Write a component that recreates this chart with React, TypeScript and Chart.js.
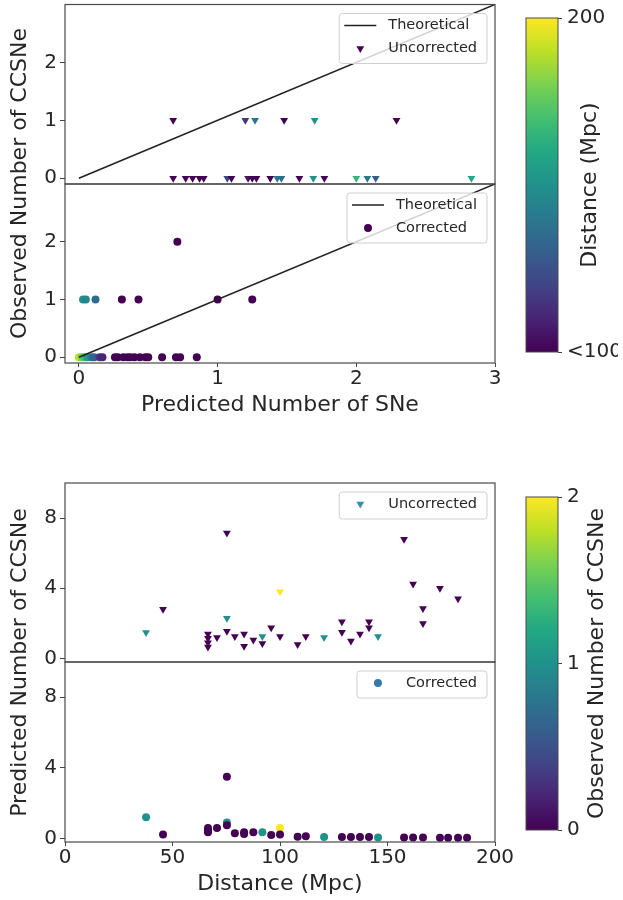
import React, { useEffect, useRef } from 'react';
import { Chart, registerables } from 'chart.js';

Chart.register(...registerables);

const FONT = '"DejaVu Sans", "Liberation Sans", sans-serif';
const TEXT = '#262626';
const PAGE_W = 623;
const PAGE_H = 900;

// ---------- Figure 1: observed vs predicted ----------
const theoX = [0, 3];
const theoY = [0, 3];
const fig1XTicks = [0, 1, 2, 3];
const fig1YTicks = [0, 1, 2];

const uncPred = [0.68, 1.2, 1.27, 1.48, 1.7, 2.29, 0.68, 0.77, 0.82, 0.87, 0.9, 1.07, 1.1, 1.22, 1.25, 1.28, 1.38, 1.43, 1.46, 1.59, 1.69, 1.77, 2.0, 2.08, 2.14, 2.83];
const uncObs = [1, 1, 1, 1, 1, 1, 0, 0, 0, 0, 0, 0, 0, 0, 0, 0, 0, 0, 0, 0, 0, 0, 0, 0, 0, 0];
const uncDist = [90, 115, 140, 90, 150, 90, 92, 90, 90, 90, 90, 120, 100, 105, 95, 92, 100, 140, 135, 90, 150, 90, 165, 140, 130, 160];

const corPred = [0.71, 0.03, 0.05, 0.12, 0.31, 0.43, 1.0, 1.25, 0.0, 0.02, 0.04, 0.06, 0.09, 0.11, 0.15, 0.17, 0.26, 0.28, 0.32, 0.35, 0.37, 0.4, 0.44, 0.48, 0.5, 0.6, 0.7, 0.73, 0.85];
const corObs = [2, 1, 1, 1, 1, 1, 1, 1, 0, 0, 0, 0, 0, 0, 0, 0, 0, 0, 0, 0, 0, 0, 0, 0, 0, 0, 0, 0, 0];
const corDist = [90, 150, 145, 135, 90, 90, 90, 90, 190, 180, 170, 155, 140, 130, 115, 110, 95, 90, 90, 90, 90, 90, 90, 90, 90, 90, 90, 90, 90];

// ---------- Figure 2: predicted vs distance ----------
const fig2XTicks = [0, 50, 100, 150, 200];
const fig2YTicks = [0, 4, 8];

const uDist = [37.7, 45.6, 66.5, 66.5, 66.5, 66.5, 70.7, 75.3, 75.3, 75.3, 79.0, 83.3, 83.3, 87.6, 91.8, 91.8, 95.9, 100, 100, 108.2, 112.0, 120.5, 128.8, 128.8, 133.0, 137.2, 141.4, 141.4, 145.6, 157.7, 161.9, 166.5, 166.5, 174.4, 182.8];
const uPred = [1.48, 2.8, 1.4, 1.15, 0.9, 0.65, 1.2, 7.15, 2.3, 1.55, 1.25, 1.4, 0.7, 1.05, 1.25, 0.85, 1.75, 3.8, 1.25, 0.8, 1.25, 1.2, 2.1, 1.5, 1.0, 1.4, 2.1, 1.75, 1.25, 6.8, 4.25, 2.85, 2.0, 4.0, 3.4];
const uObs = [1, 0, 0, 0, 0, 0, 0, 0, 1, 0, 0, 0, 0, 0, 1, 0, 0, 2, 0, 0, 0, 1, 0, 0, 0, 0, 0, 0, 1, 0, 0, 0, 0, 0, 0];

const cDist = [37.7, 45.6, 66.5, 66.5, 66.5, 70.7, 75.3, 75.3, 75.3, 79.0, 83.3, 83.3, 87.6, 91.8, 95.9, 100, 100, 108.2, 112.0, 120.5, 128.8, 133.0, 137.2, 141.4, 145.6, 157.7, 161.9, 166.5, 174.4, 178.2, 182.8, 187.0];
const cPred = [1.2, 0.23, 0.6, 0.45, 0.35, 0.6, 3.5, 0.9, 0.75, 0.3, 0.35, 0.25, 0.35, 0.35, 0.2, 0.6, 0.22, 0.1, 0.12, 0.08, 0.08, 0.08, 0.08, 0.08, 0.05, 0.05, 0.05, 0.05, 0.04, 0.04, 0.04, 0.04];
const cObs = [1, 0, 0, 0, 0, 0, 0, 1, 0, 0, 0, 0, 0, 1, 0, 2, 0, 0, 0, 1, 0, 0, 0, 0, 1, 0, 0, 0, 0, 0, 0, 0];

// ---------- Colorbars ----------
const cb1Ticks = [100, 200];
const cb1Labels = ['<100', '200'];
const cb2Ticks = [0, 1, 2];
const cb2Labels = ['0', '1', '2'];

// ---------- viridis ----------
const VIRIDIS = ['#440154', '#482475', '#414487', '#355f8d', '#2a788e', '#21918c', '#22a884', '#44bf70', '#7ad151', '#bddf26', '#fde725'];
function hexToRgb(h: string) {
  return [parseInt(h.slice(1, 3), 16), parseInt(h.slice(3, 5), 16), parseInt(h.slice(5, 7), 16)];
}
function viridis(t: number) {
  const tt = Math.max(0, Math.min(1, t));
  const n = VIRIDIS.length - 1;
  const i = Math.min(Math.floor(tt * n), n - 1);
  const f = tt * n - i;
  const a = hexToRgb(VIRIDIS[i]);
  const b = hexToRgb(VIRIDIS[i + 1]);
  const c = a.map((v, k) => Math.round(v + (b[k] - v) * f));
  return `rgb(${c[0]},${c[1]},${c[2]})`;
}

// ---------- plugins ----------
function framePlugin() {
  return {
    id: 'frame',
    afterDatasetsDraw(chart: any) {
      const { left, top, right, bottom } = chart.chartArea;
      const ctx = chart.ctx;
      ctx.save();
      ctx.strokeStyle = '#4a4a4a';
      ctx.lineWidth = 1.2;
      ctx.strokeRect(left, top, right - left, bottom - top);
      ctx.restore();
    },
  };
}

function drawMarker(ctx: CanvasRenderingContext2D, kind: string, x: number, y: number, color: string) {
  ctx.fillStyle = color;
  ctx.beginPath();
  if (kind === 'tri') {
    const r = 4.5;
    ctx.moveTo(x, y + r);
    ctx.lineTo(x + r * Math.cos(Math.PI / 6), y - r / 2);
    ctx.lineTo(x - r * Math.cos(Math.PI / 6), y - r / 2);
    ctx.closePath();
  } else {
    ctx.arc(x, y, 4, 0, Math.PI * 2);
  }
  ctx.fill();
}

function legendPlugin(items: { kind: string; color: string; label: string }[]) {
  return {
    id: 'boxLegend',
    afterDraw(chart: any) {
      const ctx = chart.ctx;
      const ca = chart.chartArea;
      ctx.save();
      ctx.font = `14.5px ${FONT}`;
      const tw = Math.max(...items.map((it) => ctx.measureText(it.label).width));
      const w = 5 + 32 + 12 + tw + 10;
      const h = items.length * 23 + 4;
      const x = ca.right - 8 - w;
      const y = ca.top + 9;
      ctx.beginPath();
      if ((ctx as any).roundRect) (ctx as any).roundRect(x, y, w, h, 3);
      else ctx.rect(x, y, w, h);
      ctx.fillStyle = 'rgba(255,255,255,0.8)';
      ctx.fill();
      ctx.strokeStyle = '#d0d0d0';
      ctx.lineWidth = 1;
      ctx.stroke();
      items.forEach((it, i) => {
        const cy = y + 12 + i * 23;
        const hx = x + 5;
        if (it.kind === 'line') {
          ctx.strokeStyle = it.color;
          ctx.lineWidth = 1.6;
          ctx.beginPath();
          ctx.moveTo(hx, cy);
          ctx.lineTo(hx + 32, cy);
          ctx.stroke();
        } else {
          drawMarker(ctx, it.kind, hx + 16, cy, it.color);
        }
        ctx.fillStyle = TEXT;
        ctx.textBaseline = 'middle';
        ctx.textAlign = 'left';
        ctx.fillText(it.label, hx + 44, cy);
      });
      ctx.restore();
    },
  };
}

function textPlugin(items: { text: string; x: number; y: number; size: number }[]) {
  return {
    id: 'sideText',
    afterDraw(chart: any) {
      const ctx = chart.ctx;
      ctx.save();
      items.forEach((t) => {
        ctx.save();
        ctx.translate(t.x, t.y);
        ctx.rotate(-Math.PI / 2);
        ctx.font = `${t.size}px ${FONT}`;
        ctx.fillStyle = TEXT;
        ctx.textAlign = 'center';
        ctx.textBaseline = 'middle';
        ctx.fillText(t.text, 0, 0);
        ctx.restore();
      });
      ctx.restore();
    },
  };
}

function gradientPlugin() {
  return {
    id: 'cbar',
    afterDatasetsDraw(chart: any) {
      const { left, top, right, bottom } = chart.chartArea;
      const ctx = chart.ctx;
      ctx.save();
      const g = ctx.createLinearGradient(0, bottom, 0, top);
      VIRIDIS.forEach((c, i) => g.addColorStop(i / (VIRIDIS.length - 1), c));
      ctx.fillStyle = g;
      ctx.fillRect(left, top, right - left, bottom - top);
      ctx.strokeStyle = '#4a4a4a';
      ctx.lineWidth = 1;
      ctx.strokeRect(left, top, right - left, bottom - top);
      ctx.restore();
    },
  };
}

// ---------- chart builders ----------
const YAXW = 60;
const XAXH = 55;

type Box = { l: number; t: number; r: number; b: number };

function panel(p: {
  box: Box;
  xMin: number; xMax: number; yMin: number; yMax: number;
  xTicks: number[]; yTicks: number[];
  xTitle?: string;
  datasets: any[];
  legend: { kind: string; color: string; label: string }[];
  texts?: { text: string; x: number; y: number; size: number }[];
}) {
  const showX = !!p.xTitle;
  return {
    type: 'scatter',
    data: { datasets: p.datasets },
    options: {
      responsive: false,
      animation: false,
      events: [],
      layout: {
        padding: {
          left: p.box.l - YAXW,
          top: p.box.t,
          right: PAGE_W - p.box.r,
          bottom: showX ? PAGE_H - p.box.b - XAXH : PAGE_H - p.box.b,
        },
      },
      plugins: { legend: { display: false }, tooltip: { enabled: false } },
      scales: {
        x: {
          type: 'linear',
          min: p.xMin,
          max: p.xMax,
          display: showX,
          afterBuildTicks: (s: any) => { s.ticks = p.xTicks.map((v) => ({ value: v })); },
          afterFit: (s: any) => {
            if (showX) s.height = XAXH;
            s.paddingLeft = 0;
            s.paddingRight = 0;
          },
          grid: { drawOnChartArea: false, drawTicks: true, tickLength: 4, color: '#444' },
          border: { display: false },
          ticks: { font: { family: FONT, size: 20 }, color: TEXT, padding: 0, maxRotation: 0, autoSkip: false },
          title: { display: showX, text: p.xTitle || '', font: { family: FONT, size: 22 }, color: TEXT, padding: { top: 0, bottom: 0 } },
        },
        y: {
          type: 'linear',
          min: p.yMin,
          max: p.yMax,
          afterBuildTicks: (s: any) => { s.ticks = p.yTicks.map((v) => ({ value: v })); },
          afterFit: (s: any) => {
            s.width = YAXW;
            s.paddingTop = 0;
            s.paddingBottom = 0;
          },
          grid: { drawOnChartArea: false, drawTicks: true, tickLength: 5, color: '#444' },
          border: { display: false },
          ticks: { font: { family: FONT, size: 20 }, color: TEXT, padding: 3, autoSkip: false },
        },
      },
    },
    plugins: [framePlugin(), legendPlugin(p.legend), textPlugin(p.texts || [])],
  };
}

function colorbar(c: { box: Box; min: number; max: number; ticks: number[]; labels: string[]; title: string; titleX: number }) {
  return {
    type: 'scatter',
    data: { datasets: [] },
    options: {
      responsive: false,
      animation: false,
      events: [],
      layout: { padding: { left: c.box.l, top: c.box.t, right: PAGE_W - c.box.r - YAXW, bottom: PAGE_H - c.box.b } },
      plugins: { legend: { display: false }, tooltip: { enabled: false } },
      scales: {
        x: { type: 'linear', display: false, min: 0, max: 1 },
        y: {
          type: 'linear',
          position: 'right',
          min: c.min,
          max: c.max,
          afterBuildTicks: (s: any) => { s.ticks = c.ticks.map((v) => ({ value: v })); },
          afterFit: (s: any) => {
            s.width = YAXW;
            s.paddingTop = 0;
            s.paddingBottom = 0;
          },
          grid: { drawOnChartArea: false, drawTicks: true, tickLength: 4, color: '#444' },
          border: { display: false },
          ticks: {
            font: { family: FONT, size: 20 },
            color: TEXT,
            padding: 5,
            autoSkip: false,
            callback: (_v: any, i: number) => c.labels[i],
          },
        },
      },
    },
    plugins: [gradientPlugin(), textPlugin([{ text: c.title, x: c.titleX, y: (c.box.t + c.box.b) / 2, size: 22 }])],
  };
}

function theoDataset() {
  return {
    data: theoX.map((x, i) => ({ x, y: theoY[i] })),
    showLine: true,
    borderColor: '#222222',
    borderWidth: 1.6,
    pointRadius: 0,
    fill: false,
  };
}

function markerDataset(xs: number[], ys: number[], colors: string[], tri: boolean) {
  return {
    data: xs.map((x, i) => ({ x, y: ys[i] })),
    pointStyle: tri ? 'triangle' : 'circle',
    rotation: tri ? 180 : 0,
    pointRadius: tri ? 4.5 : 4,
    pointBackgroundColor: colors,
    pointBorderColor: colors,
    pointBorderWidth: 0,
    showLine: false,
  };
}

const distNorm = (d: number) => (d - 100) / 100;
const obsNorm = (o: number) => o / 2;

export default function App() {
  const r0 = useRef<HTMLCanvasElement>(null);
  const r1 = useRef<HTMLCanvasElement>(null);
  const r2 = useRef<HTMLCanvasElement>(null);
  const r3 = useRef<HTMLCanvasElement>(null);
  const r4 = useRef<HTMLCanvasElement>(null);
  const r5 = useRef<HTMLCanvasElement>(null);
  const refs = [r0, r1, r2, r3, r4, r5];

  useEffect(() => {
    const configs: any[] = [
      panel({
        box: { l: 65, t: 4, r: 495, b: 184 },
        xMin: -0.1, xMax: 3, yMin: -0.1, yMax: 3,
        xTicks: fig1XTicks, yTicks: fig1YTicks,
        datasets: [theoDataset(), markerDataset(uncPred, uncObs, uncDist.map((d) => viridis(distNorm(d))), true)],
        legend: [
          { kind: 'line', color: '#222222', label: 'Theoretical' },
          { kind: 'tri', color: '#440154', label: 'Uncorrected' },
        ],
      }),
      panel({
        box: { l: 65, t: 184, r: 495, b: 363 },
        xMin: -0.1, xMax: 3, yMin: -0.1, yMax: 3,
        xTicks: fig1XTicks, yTicks: fig1YTicks,
        xTitle: 'Predicted Number of SNe',
        datasets: [theoDataset(), markerDataset(corPred, corObs, corDist.map((d) => viridis(distNorm(d))), false)],
        legend: [
          { kind: 'line', color: '#222222', label: 'Theoretical' },
          { kind: 'circle', color: '#440154', label: 'Corrected' },
        ],
        texts: [{ text: 'Observed Number of CCSNe', x: 20, y: 183.5, size: 22 }],
      }),
      panel({
        box: { l: 65, t: 483, r: 495, b: 662 },
        xMin: 0, xMax: 200, yMin: -0.2, yMax: 10,
        xTicks: fig2XTicks, yTicks: fig2YTicks,
        datasets: [markerDataset(uDist, uPred, uObs.map((o) => viridis(obsNorm(o))), true)],
        legend: [{ kind: 'tri', color: '#3690a6', label: 'Uncorrected' }],
      }),
      panel({
        box: { l: 65, t: 662, r: 495, b: 842 },
        xMin: 0, xMax: 200, yMin: -0.2, yMax: 10,
        xTicks: fig2XTicks, yTicks: fig2YTicks,
        xTitle: 'Distance (Mpc)',
        datasets: [markerDataset(cDist, cPred, cObs.map((o) => viridis(obsNorm(o))), false)],
        legend: [{ kind: 'circle', color: '#3579ad', label: 'Corrected' }],
        texts: [{ text: 'Predicted Number of CCSNe', x: 20, y: 662.5, size: 22 }],
      }),
      colorbar({ box: { l: 526, t: 18, r: 558, b: 352 }, min: 100, max: 200, ticks: cb1Ticks, labels: cb1Labels, title: 'Distance (Mpc)', titleX: 590 }),
      colorbar({ box: { l: 526, t: 497, r: 558, b: 830 }, min: 0, max: 2, ticks: cb2Ticks, labels: cb2Labels, title: 'Observed Number of CCSNe', titleX: 597 }),
    ];
    const charts = configs.map((cfg, i) => new Chart(refs[i].current as HTMLCanvasElement, cfg));
    return () => charts.forEach((c) => c.destroy());
  }, []);

  return (
    <div style={{ position: 'absolute', left: 0, top: 0, width: PAGE_W, height: PAGE_H, background: '#ffffff' }}>
      {refs.map((r, i) => (
        <canvas
          key={i}
          ref={r}
          width={PAGE_W}
          height={PAGE_H}
          style={{ position: 'absolute', left: 0, top: 0, width: PAGE_W, height: PAGE_H }}
        />
      ))}
    </div>
  );
}
